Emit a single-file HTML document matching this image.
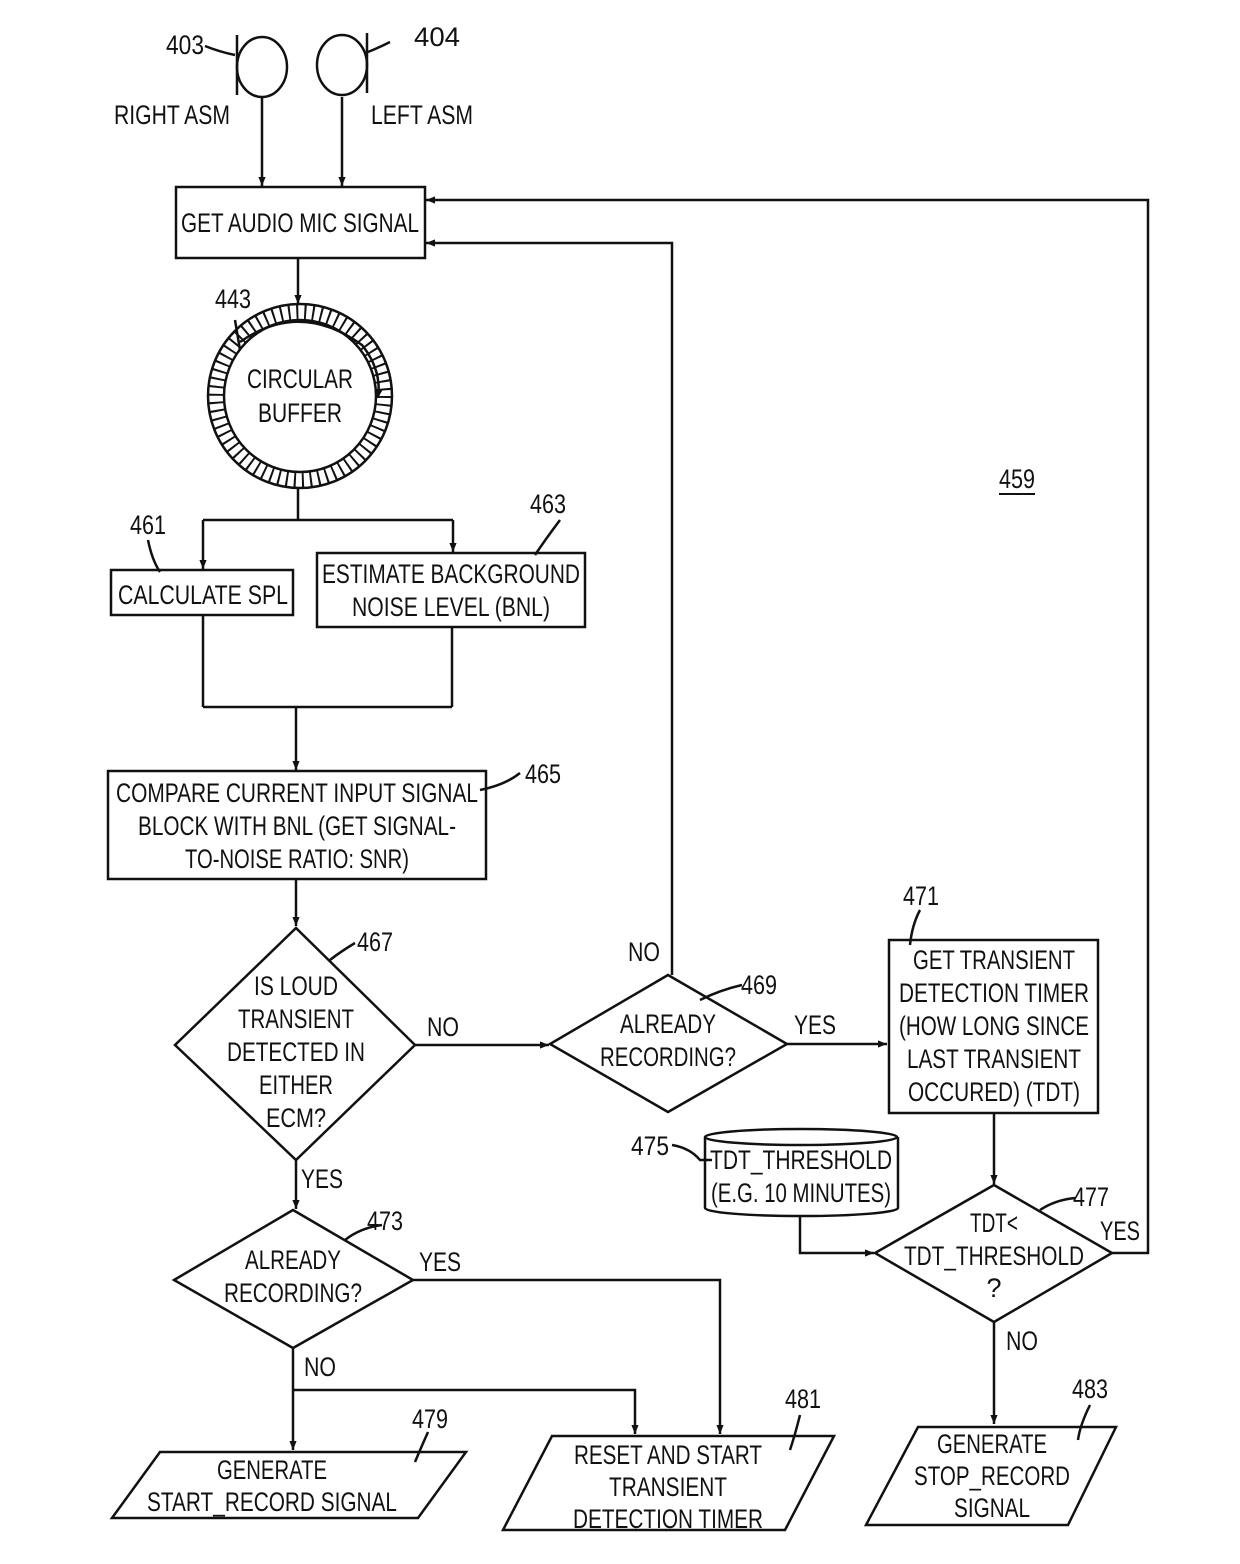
<!DOCTYPE html>
<html><head><meta charset="utf-8"><style>
html,body{margin:0;padding:0;background:#fff;}
svg{display:block;}
text{font-family:"Liberation Sans",sans-serif;font-size:27px;fill:#111;}
.m{text-anchor:middle;}
</style></head><body>
<svg width="1240" height="1564" viewBox="0 0 1240 1564" xmlns="http://www.w3.org/2000/svg">
<defs>
<marker id="a" viewBox="0 0 10 10" refX="10" refY="5" markerWidth="9" markerHeight="9" orient="auto" markerUnits="userSpaceOnUse"><path d="M0,1 L10,5 L0,9 z" fill="#111"/></marker>
</defs>
<g stroke="#111" stroke-width="2.5" fill="none">
<!-- mics -->
<ellipse cx="262" cy="67" rx="25" ry="30"/>
<ellipse cx="342" cy="65" rx="25" ry="30"/>
<path d="M237,35 V95 M367,33 V93"/>
<path d="M205,46 Q220,52 235,55 M390,42 Q378,48 368,52"/>
<path d="M262,97 V186" marker-end="url(#a)"/>
<path d="M342,97 V186" marker-end="url(#a)"/>
<rect x="176" y="187" width="249" height="71"/>
<path d="M298,258 V304" marker-end="url(#a)"/>
<!-- circular buffer -->
<circle cx="300" cy="396" r="92"/>
<circle cx="300" cy="396" r="76"/>
<circle cx="300" cy="396" r="84" stroke-dasharray="2 6" stroke-width="16"/>
<path d="M240,342 Q300,300 362,345 Q382,370 378,398" marker-end="url(#a)"/>
<path d="M235,320 L240,350"/>
<!-- split -->
<path d="M298,488 V520 M203,520 H453"/>
<path d="M203,520 V569" marker-end="url(#a)"/>
<path d="M453,520 V552" marker-end="url(#a)"/>
<rect x="111" y="570" width="182" height="45"/>
<rect x="317" y="553" width="268" height="74"/>
<path d="M148,540 Q152,560 160,572 M560,520 Q545,540 535,555"/>
<path d="M203,615 V707 M452,627 V707 M203,707 H452"/>
<path d="M296,707 V770" marker-end="url(#a)"/>
<rect x="108" y="771" width="378" height="108"/>
<path d="M520,773 Q505,785 480,790"/>
<path d="M296,879 V926" marker-end="url(#a)"/>
<!-- diamond 467 -->
<path d="M296,928 L415,1045 L296,1160 L175,1045 Z"/>
<path d="M355,943 Q340,952 330,960"/>
<path d="M415,1045 H549" marker-end="url(#a)"/>
<!-- diamond 469 -->
<path d="M668,975 L787,1044 L668,1112 L550,1044 Z"/>
<path d="M742,985 Q720,990 700,1000"/>
<path d="M672,975 V243 H426" marker-end="url(#a)"/>
<path d="M787,1044 H887" marker-end="url(#a)"/>
<rect x="889" y="940" width="209" height="173"/>
<path d="M920,910 Q912,925 910,945"/>
<path d="M994,1113 V1184" marker-end="url(#a)"/>
<!-- diamond 477 -->
<path d="M994,1185 L1112,1253 L994,1322 L875,1253 Z"/>
<path d="M1075,1198 Q1055,1200 1040,1210"/>
<path d="M1112,1253 H1148 V200 H426" marker-end="url(#a)"/>
<!-- cylinder -->
<path d="M705,1137 V1208 A96,8 0 0 0 898,1208 V1137"/>
<ellipse cx="801" cy="1137" rx="96" ry="8"/>
<path d="M672,1145 Q690,1148 700,1160 L712,1160"/>
<path d="M800,1216 V1253 H874" marker-end="url(#a)"/>
<path d="M994,1322 V1424" marker-end="url(#a)"/>
<path d="M918,1427 H1116 L1068,1525 H866 Z"/>
<path d="M1090,1405 Q1080,1425 1078,1440"/>
<!-- YES down -->
<path d="M296,1160 V1209" marker-end="url(#a)"/>
<path d="M293,1210 L413,1280 L293,1348 L174,1280 Z"/>
<path d="M382,1225 Q360,1228 345,1240"/>
<path d="M413,1280 H720 V1434" marker-end="url(#a)"/>
<path d="M293,1348 V1450" marker-end="url(#a)"/>
<path d="M293,1390 H635 V1434" marker-end="url(#a)"/>
<path d="M160,1452 H466 L418,1518 H112 Z"/>
<path d="M428,1432 Q420,1450 415,1462"/>
<path d="M552,1436 H834 L785,1530 H503 Z"/>
<path d="M800,1415 Q795,1435 790,1450"/>
</g>
<!-- labels -->
<text x="185" y="54" class="m" textLength="38" lengthAdjust="spacingAndGlyphs">403</text>
<text x="437" y="46" class="m" textLength="46" lengthAdjust="spacingAndGlyphs">404</text>
<text x="172" y="124" class="m" textLength="116" lengthAdjust="spacingAndGlyphs">RIGHT ASM</text>
<text x="422" y="124" class="m" textLength="102" lengthAdjust="spacingAndGlyphs">LEFT ASM</text>
<text x="300" y="232" class="m" textLength="238" lengthAdjust="spacingAndGlyphs">GET AUDIO MIC SIGNAL</text>
<text x="233" y="308" class="m" textLength="36" lengthAdjust="spacingAndGlyphs">443</text>
<text x="300" y="388" class="m" textLength="106" lengthAdjust="spacingAndGlyphs">CIRCULAR</text>
<text x="300" y="422" class="m" textLength="84" lengthAdjust="spacingAndGlyphs">BUFFER</text>
<text x="148" y="534" class="m" textLength="36" lengthAdjust="spacingAndGlyphs">461</text>
<text x="548" y="513" class="m" textLength="36" lengthAdjust="spacingAndGlyphs">463</text>
<text x="1017" y="488" class="m" textLength="36" lengthAdjust="spacingAndGlyphs">459</text>
<line x1="999" y1="494" x2="1035" y2="494" stroke="#111" stroke-width="2"/>
<text x="203" y="604" class="m" textLength="170" lengthAdjust="spacingAndGlyphs">CALCULATE SPL</text>
<text x="451" y="583" class="m" textLength="258" lengthAdjust="spacingAndGlyphs">ESTIMATE BACKGROUND</text>
<text x="451" y="616" class="m" textLength="198" lengthAdjust="spacingAndGlyphs">NOISE LEVEL (BNL)</text>
<text x="543" y="783" class="m" textLength="36" lengthAdjust="spacingAndGlyphs">465</text>
<text x="297" y="802" class="m" textLength="362" lengthAdjust="spacingAndGlyphs">COMPARE CURRENT INPUT SIGNAL</text>
<text x="297" y="835" class="m" textLength="318" lengthAdjust="spacingAndGlyphs">BLOCK WITH BNL (GET SIGNAL-</text>
<text x="297" y="868" class="m" textLength="224" lengthAdjust="spacingAndGlyphs">TO-NOISE RATIO: SNR)</text>
<text x="375" y="951" class="m" textLength="36" lengthAdjust="spacingAndGlyphs">467</text>
<text x="296" y="995" class="m" textLength="84" lengthAdjust="spacingAndGlyphs">IS LOUD</text>
<text x="296" y="1028" class="m" textLength="116" lengthAdjust="spacingAndGlyphs">TRANSIENT</text>
<text x="296" y="1061" class="m" textLength="138" lengthAdjust="spacingAndGlyphs">DETECTED IN</text>
<text x="296" y="1094" class="m" textLength="74" lengthAdjust="spacingAndGlyphs">EITHER</text>
<text x="296" y="1127" class="m" textLength="60" lengthAdjust="spacingAndGlyphs">ECM?</text>
<text x="443" y="1036" class="m" textLength="32" lengthAdjust="spacingAndGlyphs">NO</text>
<text x="644" y="961" class="m" textLength="32" lengthAdjust="spacingAndGlyphs">NO</text>
<text x="759" y="994" class="m" textLength="36" lengthAdjust="spacingAndGlyphs">469</text>
<text x="668" y="1033" class="m" textLength="96" lengthAdjust="spacingAndGlyphs">ALREADY</text>
<text x="668" y="1066" class="m" textLength="136" lengthAdjust="spacingAndGlyphs">RECORDING?</text>
<text x="815" y="1034" class="m" textLength="42" lengthAdjust="spacingAndGlyphs">YES</text>
<text x="921" y="905" class="m" textLength="36" lengthAdjust="spacingAndGlyphs">471</text>
<text x="994" y="969" class="m" textLength="162" lengthAdjust="spacingAndGlyphs">GET TRANSIENT</text>
<text x="994" y="1002" class="m" textLength="190" lengthAdjust="spacingAndGlyphs">DETECTION TIMER</text>
<text x="994" y="1035" class="m" textLength="190" lengthAdjust="spacingAndGlyphs">(HOW LONG SINCE</text>
<text x="994" y="1068" class="m" textLength="174" lengthAdjust="spacingAndGlyphs">LAST TRANSIENT</text>
<text x="994" y="1101" class="m" textLength="172" lengthAdjust="spacingAndGlyphs">OCCURED) (TDT)</text>
<text x="650" y="1155" class="m" textLength="38" lengthAdjust="spacingAndGlyphs">475</text>
<text x="801" y="1169" class="m" textLength="182" lengthAdjust="spacingAndGlyphs">TDT_THRESHOLD</text>
<text x="801" y="1202" class="m" textLength="180" lengthAdjust="spacingAndGlyphs">(E.G. 10 MINUTES)</text>
<text x="1091" y="1206" class="m" textLength="36" lengthAdjust="spacingAndGlyphs">477</text>
<text x="1120" y="1240" class="m" textLength="40" lengthAdjust="spacingAndGlyphs">YES</text>
<text x="994" y="1232" class="m" textLength="48" lengthAdjust="spacingAndGlyphs">TDT&lt;</text>
<text x="994" y="1265" class="m" textLength="180" lengthAdjust="spacingAndGlyphs">TDT_THRESHOLD</text>
<text x="994" y="1297" class="m">?</text>
<text x="1022" y="1350" class="m" textLength="32" lengthAdjust="spacingAndGlyphs">NO</text>
<text x="1090" y="1398" class="m" textLength="36" lengthAdjust="spacingAndGlyphs">483</text>
<text x="992" y="1453" class="m" textLength="110" lengthAdjust="spacingAndGlyphs">GENERATE</text>
<text x="992" y="1485" class="m" textLength="156" lengthAdjust="spacingAndGlyphs">STOP_RECORD</text>
<text x="992" y="1517" class="m" textLength="76" lengthAdjust="spacingAndGlyphs">SIGNAL</text>
<text x="322" y="1188" class="m" textLength="42" lengthAdjust="spacingAndGlyphs">YES</text>
<text x="385" y="1230" class="m" textLength="36" lengthAdjust="spacingAndGlyphs">473</text>
<text x="293" y="1269" class="m" textLength="96" lengthAdjust="spacingAndGlyphs">ALREADY</text>
<text x="293" y="1302" class="m" textLength="138" lengthAdjust="spacingAndGlyphs">RECORDING?</text>
<text x="440" y="1271" class="m" textLength="42" lengthAdjust="spacingAndGlyphs">YES</text>
<text x="320" y="1376" class="m" textLength="32" lengthAdjust="spacingAndGlyphs">NO</text>
<text x="430" y="1428" class="m" textLength="36" lengthAdjust="spacingAndGlyphs">479</text>
<text x="272" y="1479" class="m" textLength="110" lengthAdjust="spacingAndGlyphs">GENERATE</text>
<text x="272" y="1511" class="m" textLength="250" lengthAdjust="spacingAndGlyphs">START_RECORD SIGNAL</text>
<text x="803" y="1408" class="m" textLength="36" lengthAdjust="spacingAndGlyphs">481</text>
<text x="668" y="1464" class="m" textLength="188" lengthAdjust="spacingAndGlyphs">RESET AND START</text>
<text x="668" y="1496" class="m" textLength="118" lengthAdjust="spacingAndGlyphs">TRANSIENT</text>
<text x="668" y="1528" class="m" textLength="190" lengthAdjust="spacingAndGlyphs">DETECTION TIMER</text>
</svg>
</body></html>
